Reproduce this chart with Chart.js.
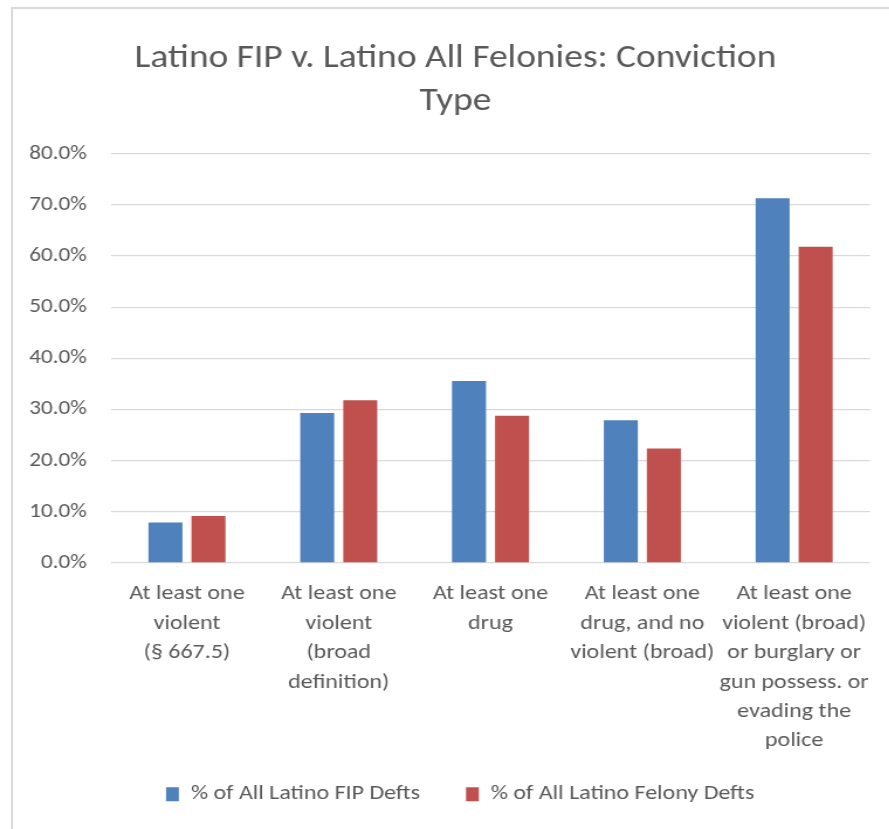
<!DOCTYPE html>
<html>
<head>
<meta charset="utf-8">
<title>Latino FIP v. Latino All Felonies: Conviction Type</title>
<script src="https://cdn.jsdelivr.net/npm/chart.js@4.4.0/dist/chart.umd.min.js"></script>
<style>
  html, body { margin: 0; padding: 0; background: #fff; }
  #wrap { position: relative; width: 889px; height: 829px; overflow: hidden; }
  #frame { position: absolute; left: 11px; top: 7px; width: 900px; height: 900px;
           border: 2px solid #d9d9d9; box-sizing: border-box; pointer-events: none; }
  /* the source picture is a little wide, so the canvas is stretched sideways */
  canvas { position: absolute; left: 0; top: 0; transform: scaleX(1.17); transform-origin: 0 0; }
</style>
</head>
<body>
<div id="wrap">
  <canvas id="my-chart" width="760" height="829"></canvas>
  <div id="frame"></div>
</div>
<script>
'use strict';

// ******* DATA *********
let categories = [
  ['At least one', 'violent', '(§ 667.5)'],
  ['At least one', 'violent', '(broad', 'definition)'],
  ['At least one', 'drug'],
  ['At least one', 'drug, and no', 'violent (broad)'],
  ['At least one', 'violent (broad)', 'or burglary or', 'gun possess. or', 'evading the', 'police']
];
let fipValues = [7.9, 29.3, 35.6, 27.9, 71.3];
let felonyValues = [9.2, 31.8, 28.8, 22.4, 61.8];
let seriesNames = ['% of All Latino FIP Defts', '% of All Latino Felony Defts'];
let yTicks = [0, 10, 20, 30, 40, 50, 60, 70, 80];

// ******* STYLE *********
let textColor = '#595959';
let gridColor = '#d9d9d9';
let fontFamily = 'Carlito, Calibri, Lato, sans-serif';

let ctx = document.getElementById('my-chart');

// nudge title and legend sideways so they sit centred like in the picture
let boxShift = {
  id: 'boxShift',
  afterLayout: function (chart) {
    chart.titleBlock.left += 17.5;
    chart.titleBlock.right += 17.5;
    chart.legend.left += 21.5;
    chart.legend.right += 21.5;
  }
};

let chartObj = {
  type: 'bar',
  data: {
    labels: categories,
    datasets: [{
      label: seriesNames[0],
      data: fipValues,
      backgroundColor: '#4f81bd',
      borderWidth: 0
    },
    {
      label: seriesNames[1],
      data: felonyValues,
      backgroundColor: '#c0504d',
      borderWidth: 0
    }]
  },
  options: {
    responsive: false,
    animation: false,
    categoryPercentage: 0.567,
    barPercentage: 0.79,
    layout: {
      padding: { left: 0, right: 16.4, top: 0, bottom: 14.5 }
    },
    plugins: {
      title: {
        display: true,
        text: ['Latino FIP v. Latino All Felonies: Conviction', 'Type'],
        color: textColor,
        font: { family: fontFamily, size: 32, weight: 'normal', lineHeight: 43.5 / 32 },
        padding: { top: 36.75, bottom: 30 }
      },
      legend: {
        position: 'bottom',
        labels: {
          color: textColor,
          font: { family: fontFamily, size: 20.5 },
          boxWidth: 11,
          boxHeight: 14,
          padding: 30,
          generateLabels: function (chart) {
            let items = Chart.defaults.plugins.legend.labels.generateLabels(chart); //eslint-disable-line
            items[0].text += '  ';
            return items;
          }
        }
      },
      tooltip: { enabled: false }
    },
    scales: {
      x: {
        grid: { display: false },
        border: { display: false },
        ticks: {
          color: textColor,
          font: { family: fontFamily, size: 20.5, lineHeight: 29.4 / 20.5 },
          maxRotation: 0,
          autoSkip: false,
          padding: 8.5
        },
        afterFit: function (scale) { scale.height = 191; }
      },
      y: {
        min: 0,
        max: 80,
        afterBuildTicks: function (scale) {
          scale.ticks = yTicks.map(function (v) { return { value: v }; });
        },
        grid: { color: gridColor, lineWidth: 1.3, drawTicks: false },
        border: { display: false },
        ticks: {
          color: textColor,
          font: { family: fontFamily, size: 19.8 },
          padding: 20.8,
          callback: function (value) { return value.toFixed(1) + '%'; }
        },
        afterFit: function (scale) { scale.width = 94.9; }
      }
    }
  },
  plugins: [boxShift]
};

new Chart(ctx, chartObj); //eslint-disable-line
</script>
</body>
</html>
